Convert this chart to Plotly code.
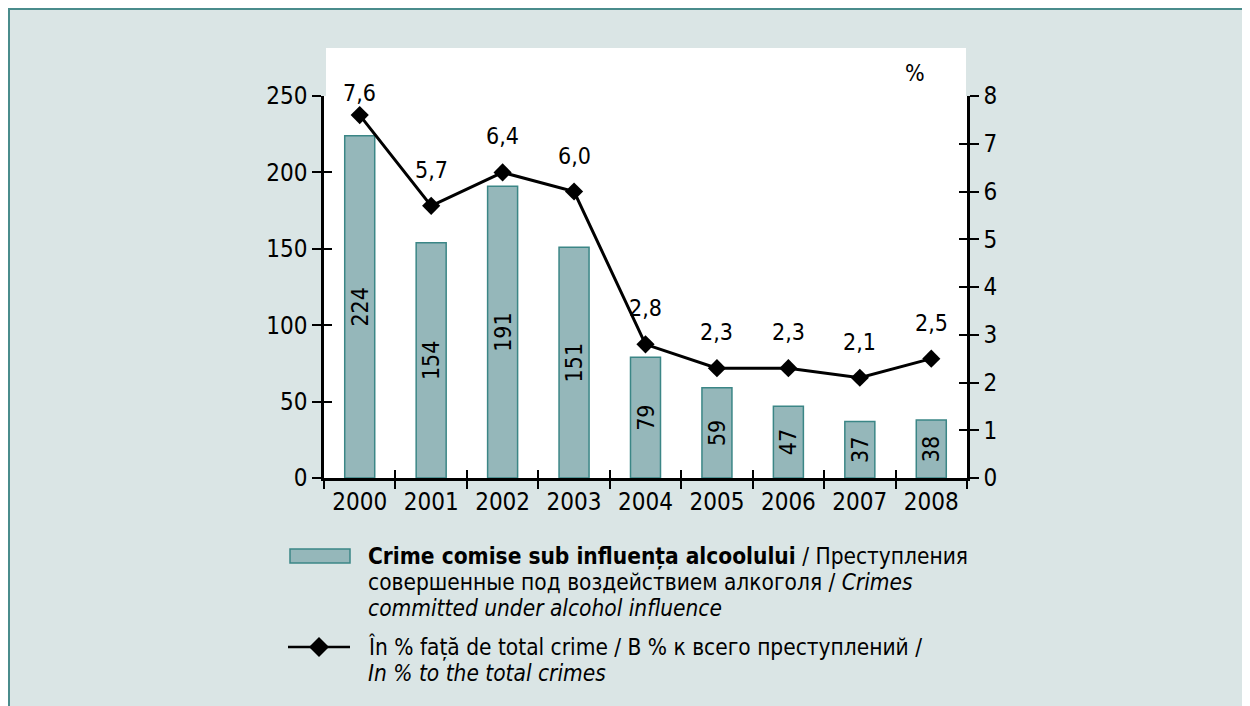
import plotly.graph_objects as go

# ---------------- data ----------------
years = ["2000", "2001", "2002", "2003", "2004", "2005", "2006", "2007", "2008"]
crimes = [224, 154, 191, 151, 79, 59, 47, 37, 38]
percent = [7.6, 5.7, 6.4, 6.0, 2.8, 2.3, 2.3, 2.1, 2.5]
left_ticks = [0, 50, 100, 150, 200, 250]
right_ticks = [0, 1, 2, 3, 4, 5, 6, 7, 8]
right_unit = "%"
legend_bar_lines = [
    "<b>Crime comise sub influența alcoolului</b> / Преступления",
    "совершенные под воздействием алкоголя / <i>Crimes</i>",
    "<i>committed under alcohol influence</i>",
]
legend_line_lines = [
    "În % față de total crime / В % к всего преступлений /",
    "<i>In % to the total crimes</i>",
]

# ---------------- style ----------------
FONT = "DejaVu Sans Condensed, Liberation Sans Narrow, sans-serif"
PANEL = "#dae5e5"
BORDER = "#4a8c8c"
BAR_FILL = "#95b7ba"
BAR_EDGE = "#3b8686"
OFF = 8                           # page body margin
W, H = 1250 - 2 * OFF, 706 - OFF  # figure size
# plot box in page pixel coordinates
L, R, T, B = 324, 967, 96, 478


def px(x):
    return (x - L) / (R - L)


def py(y):
    return (B - y) / (B - T)


fig = go.Figure()

fig.add_trace(go.Bar(
    x=years, y=crimes, width=0.42,
    marker=dict(color=BAR_FILL, line=dict(color=BAR_EDGE, width=1.5)),
    text=[str(v) for v in crimes], textposition="inside", textangle=-90,
    insidetextanchor="middle", textfont=dict(size=23, color="black", family=FONT),
    showlegend=False, hoverinfo="x+y",
))
fig.add_trace(go.Scatter(
    x=years, y=percent, yaxis="y2", mode="lines+markers",
    line=dict(color="black", width=3),
    marker=dict(symbol="diamond", size=14, color="black"),
    showlegend=False,
))
# invisible helper traces so the inner-tick overlay axes are drawn
fig.add_trace(go.Scatter(x=years, y=crimes, xaxis="x2", yaxis="y3", mode="markers",
                         marker=dict(opacity=0), hoverinfo="skip", showlegend=False))
fig.add_trace(go.Scatter(x=years, y=percent, xaxis="x2", yaxis="y4", mode="markers",
                         marker=dict(opacity=0), hoverinfo="skip", showlegend=False))

annotations = []
for i, p in enumerate(percent):
    annotations.append(dict(
        x=i, y=p, xref="x", yref="y2", text=f"{p:.1f}".replace(".", ","),
        showarrow=False, yshift=22 if i == 0 else 36, yanchor="middle", xanchor="center",
        font=dict(size=23, color="black", family=FONT),
    ))
annotations.append(dict(x=px(915), y=py(73), xref="paper", yref="paper", text=right_unit,
                        showarrow=False, xanchor="center", yanchor="middle",
                        font=dict(size=23, color="black", family=FONT)))

legend_y_bar = [556, 582, 608]
legend_y_line = [647, 673]
for txt, yy in zip(legend_bar_lines, legend_y_bar):
    annotations.append(dict(x=px(366), y=py(yy), xref="paper", yref="paper", text=txt,
                            showarrow=False, xanchor="left", yanchor="middle", align="left",
                            font=dict(size=22.5, color="black", family=FONT)))
for txt, yy in zip(legend_line_lines, legend_y_line):
    annotations.append(dict(x=px(366), y=py(yy), xref="paper", yref="paper", text=txt,
                            showarrow=False, xanchor="left", yanchor="middle", align="left",
                            font=dict(size=22.5, color="black", family=FONT)))

shapes = [
    # panel border (top and left)
    dict(type="line", xref="paper", yref="paper", x0=px(8), x1=px(1260), y0=py(9), y1=py(9),
         line=dict(color=BORDER, width=2), layer="below"),
    dict(type="line", xref="paper", yref="paper", x0=px(9), x1=px(9), y0=py(8), y1=py(720),
         line=dict(color=BORDER, width=2), layer="below"),
    # white plot area (extends above the axes)
    dict(type="rect", xref="paper", yref="paper", x0=px(326), x1=px(966), y0=py(B), y1=py(48),
         fillcolor="white", line=dict(width=0), layer="below"),
    # legend symbols
    dict(type="rect", xref="paper", yref="paper", x0=px(290), x1=px(350), y0=py(563), y1=py(549),
         fillcolor=BAR_FILL, line=dict(color=BAR_EDGE, width=1.5)),
    dict(type="line", xref="paper", yref="paper", x0=px(288), x1=px(350), y0=py(647), y1=py(647),
         line=dict(color="black", width=2.5)),
    dict(type="path", xref="paper", yref="paper",
         path=f"M{px(309)},{py(647)} L{px(319)},{py(637)} L{px(329)},{py(647)} L{px(319)},{py(657)} Z",
         fillcolor="black", line=dict(color="black", width=0)),
]

tickfont = dict(size=24, color="black", family=FONT)
fig.update_layout(
    width=W, height=H,
    margin=dict(l=L - OFF, r=W - (R - OFF), t=T - OFF, b=H - (B - OFF), pad=0),
    paper_bgcolor=PANEL, plot_bgcolor="white",
    font=dict(family=FONT, color="black"),
    xaxis=dict(type="category", categoryarray=years, range=[-0.5, 8.5], showgrid=False,
               showline=True, linecolor="black", linewidth=2.5,
               ticks="outside", ticklen=8, tickwidth=2, tickcolor="black", tickson="boundaries",
               tickfont=tickfont),
    xaxis2=dict(type="category", categoryarray=years, range=[-0.5, 8.5], overlaying="x", anchor="y",
                showgrid=False, showline=False, ticks="inside", ticklen=8, tickwidth=2,
                tickcolor="black", tickson="boundaries", showticklabels=False),
    yaxis=dict(range=[0, 250], tickvals=left_ticks, showgrid=False, zeroline=False,
               showline=True, linecolor="black", linewidth=2.5,
               ticks="outside", ticklen=9, tickwidth=2, tickcolor="black", tickfont=tickfont),
    yaxis2=dict(range=[0, 8], tickvals=right_ticks, overlaying="y", side="right", anchor="x",
                showgrid=False, zeroline=False, showline=True, linecolor="black", linewidth=2.5,
                ticks="outside", ticklen=9, tickwidth=2, tickcolor="black", tickfont=tickfont),
    yaxis3=dict(range=[0, 250], tickvals=left_ticks, overlaying="y", side="left", anchor="x",
                showgrid=False, zeroline=False, showline=False, ticks="inside", ticklen=8,
                tickwidth=2, tickcolor="black", showticklabels=False),
    yaxis4=dict(range=[0, 8], tickvals=right_ticks, overlaying="y", side="right", anchor="x",
                showgrid=False, zeroline=False, showline=False, ticks="inside", ticklen=8,
                tickwidth=2, tickcolor="black", showticklabels=False),
    uniformtext=dict(mode="show", minsize=23),
    annotations=annotations,
    shapes=shapes,
    showlegend=False,
)

fig.write_html("out.html")
